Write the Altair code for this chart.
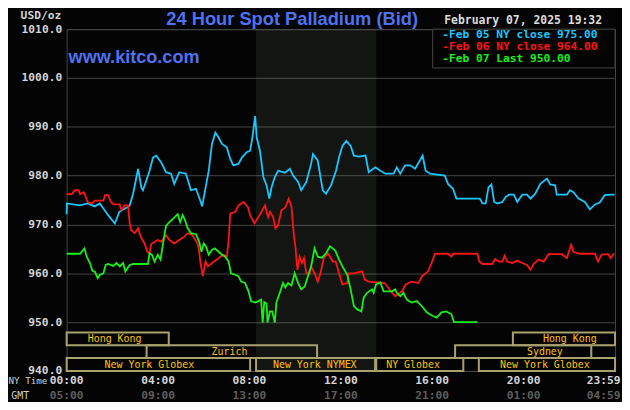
import altair as alt
import pandas as pd

# ---------------- data (hours since 00:00 NY time, USD/oz) ----------------
blue_h = [0.00,0.01,0.58,0.92,1.23,1.45,1.82,2.11,2.31,2.69,
          2.76,2.91,3.13,3.27,3.34,3.49,3.63,3.78,3.92,4.14,
          4.35,4.57,4.71,4.93,5.22,5.44,5.66,5.87,5.93,6.22,
          6.36,6.51,6.65,6.80,7.01,7.16,7.30,7.52,7.67,7.88,
          8.03,8.13,8.25,8.32,8.46,8.61,8.75,8.87,8.97,9.11,
          9.26,9.55,9.77,9.91,10.13,10.27,10.49,10.70,10.78,10.99,
          11.11,11.21,11.35,11.57,11.79,11.92,12.07,12.24,12.43,12.57,
          12.79,13.08,13.22,13.51,13.73,13.95,14.31,14.45,14.60,14.81,
          15.03,15.25,15.46,15.58,15.71,15.90,16.55,16.69,16.91,17.06,
          18.08,18.20,18.34,18.46,18.59,18.71,18.85,19.07,19.21,19.36,
          19.57,19.72,19.94,20.15,20.30,20.51,20.73,21.02,21.16,21.38,
          21.45,21.89,22.03,22.18,22.40,22.68,22.90,23.12,23.33,23.55,
          23.84,23.98]
blue_p = [972.1,974.3,973.9,974.3,973.7,974.3,971.9,970.2,972.6,973.6,
          973.9,976.3,981.4,977.6,977.0,979.0,981.0,983.7,984.1,982.7,
          980.7,980.4,978.3,980.7,980.4,977.0,977.3,974.6,973.7,981.0,
          986.5,988.8,987.8,986.5,985.8,983.4,982.1,982.4,983.7,984.8,
          985.1,987.8,992.2,987.8,985.1,979.7,978.0,975.3,977.6,979.7,
          981.0,980.6,981.4,980.0,978.7,977.0,978.7,982.4,984.4,983.1,
          979.7,977.0,976.3,978.0,981.0,983.7,986.1,987.1,986.1,984.1,
          983.9,984.1,980.7,981.7,981.0,980.4,980.4,981.7,980.4,982.1,
          982.1,981.4,983.1,984.1,981.0,980.4,980.0,978.3,977.3,975.3,
          975.3,974.3,974.3,977.6,978.2,974.6,974.3,974.6,975.6,976.1,
          976.1,974.6,976.1,976.1,975.3,976.3,978.3,979.4,978.2,978.0,
          976.1,976.1,977.0,976.6,975.3,974.6,973.1,974.1,974.5,976.0,
          976.1,976.1]

red_h = [0.00,0.23,0.37,0.52,0.59,0.74,0.81,0.92,1.10,1.24,
         1.61,1.68,1.82,1.94,2.04,2.33,2.40,2.54,2.69,2.76,
         2.83,2.98,3.13,3.24,3.41,3.53,3.63,3.70,3.99,4.14,
         4.35,4.50,4.71,4.93,5.15,5.30,5.51,5.73,5.79,5.86,
         5.96,6.08,6.19,6.36,6.58,6.73,6.87,7.01,7.09,7.16,
         7.38,7.52,7.74,7.93,8.03,8.22,8.39,8.53,8.68,8.82,
         8.90,9.04,9.14,9.26,9.40,9.57,9.72,9.84,9.95,10.01,
         10.10,10.20,10.30,10.39,10.49,10.63,10.70,10.85,10.99,11.11,
         11.25,11.43,11.65,11.78,11.92,12.07,12.28,12.35,12.57,12.93,
         13.05,13.22,13.92,14.24,14.38,14.67,14.84,15.10,15.39,15.56,
         15.82,15.97,16.12,16.69,16.84,16.91,17.98,18.06,18.20,18.63,
         18.75,18.92,19.07,19.17,19.28,19.50,19.72,19.94,20.15,20.30,
         20.44,20.66,20.88,21.09,21.67,21.89,22.01,22.08,22.18,22.47,
         23.12,23.26,23.41,23.70,23.81,23.96]
red_p = [976.2,976.2,977.0,977.0,976.2,976.6,976.0,974.6,974.3,974.9,
         974.9,976.0,976.0,974.6,974.1,974.1,972.9,973.9,973.9,970.2,
         968.8,968.2,969.2,967.5,966.1,964.4,964.1,966.0,966.8,966.5,
         967.8,966.8,966.1,966.8,967.5,968.2,967.8,966.1,964.8,962.1,
         959.4,962.4,961.4,962.1,962.8,963.4,963.8,963.4,966.8,972.2,
         972.6,973.9,974.6,973.6,971.9,970.2,971.5,972.6,973.9,971.5,
         972.6,971.5,969.2,969.9,972.9,973.5,975.3,973.6,967.5,965.5,
         960.7,963.4,962.1,963.1,960.0,960.0,961.4,960.0,958.3,960.0,
         963.1,964.1,962.4,962.4,960.0,957.7,958.0,960.0,960.0,960.4,
         958.7,958.3,958.0,956.0,955.3,956.3,957.7,958.3,958.0,959.4,
         960.4,962.1,964.0,964.0,963.4,964.0,964.0,962.4,961.9,961.9,
         962.9,962.4,962.4,963.6,962.4,962.1,962.6,962.1,961.7,960.7,
         961.9,962.8,962.4,963.9,963.9,963.1,964.8,965.8,964.4,964.0,
         964.0,962.4,963.8,963.9,963.1,964.1]

green_h = [0.00,0.59,0.78,0.88,1.02,1.13,1.24,1.36,1.46,1.61,
           1.71,1.82,2.04,2.18,2.33,2.47,2.57,2.76,2.91,3.56,
           3.63,3.73,3.85,3.99,4.11,4.21,4.35,4.50,4.71,4.86,
           4.97,5.08,5.18,5.30,5.44,5.66,5.80,5.90,6.00,6.10,
           6.22,6.36,6.48,6.65,6.80,6.94,7.09,7.19,7.38,7.52,
           7.64,7.81,7.96,8.07,8.25,8.39,8.51,8.58,8.65,8.75,
           8.79,8.90,9.00,9.11,9.18,9.33,9.47,9.57,9.69,9.84,
           9.98,10.13,10.27,10.42,10.56,10.70,10.85,10.99,11.17,11.35,
           11.53,11.72,11.78,11.92,12.07,12.28,12.43,12.57,12.72,12.90,
           13.00,13.15,13.37,13.44,13.54,13.73,13.87,14.24,14.38,14.45,
           14.60,14.74,14.89,15.10,15.32,15.54,15.76,15.97,16.19,16.41,
           16.62,16.84,16.95,17.98]
green_p = [964.0,964.0,965.1,963.4,962.1,960.5,960.3,959.0,959.7,960.0,
           961.7,961.9,961.5,962.1,961.4,962.1,960.4,961.7,961.9,961.9,
           964.1,963.8,962.4,963.8,962.8,965.8,969.7,970.5,971.4,972.1,
           970.5,971.9,970.9,969.2,968.2,968.0,966.5,964.4,966.1,965.5,
           963.8,964.8,965.1,964.4,963.8,963.4,962.4,960.0,959.7,959.4,
           958.3,958.0,956.3,954.3,954.0,954.3,954.6,949.9,954.1,953.8,
           949.9,952.2,952.2,949.9,954.0,956.0,958.0,957.1,958.0,957.5,
           960.0,958.0,956.7,957.3,959.4,961.4,965.1,963.4,963.2,964.1,
           965.5,964.8,964.4,962.8,961.4,959.7,956.7,953.3,952.6,952.2,
           955.0,956.0,956.7,956.0,957.7,958.1,956.3,956.3,956.7,956.0,
           955.3,956.0,954.6,954.0,954.3,953.3,952.0,951.4,950.9,952.0,
           952.2,951.6,950.0,950.0]

series = ["Feb 05 NY close 975.00", "Feb 06 NY close 964.00", "Feb 07 Last 950.00"]
series_colors = ["#18C8FF", "#FF1414", "#18F018"]

# axis / tick labels
y_ticks = [940, 950, 960, 970, 980, 990, 1000, 1010]
grid_hours = [0, 2, 4, 6, 8, 10, 12, 14, 16, 18, 20, 22]
ny_label_h = [0, 4, 8, 12, 16, 20, 23.5]
ny_labels = ["00:00", "04:00", "08:00", "12:00", "16:00", "20:00", "23:59"]
gmt_labels = ["05:00", "09:00", "13:00", "17:00", "21:00", "01:00", "04:59"]

# NYMEX session shading
shade_start = [8.29]
shade_end = [13.55]

# trading-session boxes (row 0 = top)
sess_names = ["Hong Kong", "Zurich", "New York Globex", "New York NYMEX",
              "NY Globex", "Sydney", "Hong Kong", "New York Globex"]
sess_start = [0.0, 3.5, 0.0, 8.29, 13.55, 17.0, 19.53, 18.04]
sess_end = [4.47, 10.96, 8.03, 13.5, 17.36, 22.96, 24.0, 24.0]
sess_row = [0, 1, 2, 2, 2, 1, 0, 2]
sess_label_h = [2.1, 7.13, 3.62, 10.86, 15.16, 20.93, 22.02, 20.93]

title_text = "24 Hour Spot Palladium (Bid)"
site_text = "www.kitco.com"
date_text = "February 07, 2025 19:32"

# ---------------- frames ----------------
frames = []
for name, hs, ps in zip(series, [blue_h, red_h, green_h], [blue_p, red_p, green_p]):
    frames.append(pd.DataFrame({"h": hs, "p": ps, "s": name, "i": range(len(hs))}))
lines_df = pd.concat(frames, ignore_index=True)

sess_df = pd.DataFrame({
    "name": sess_names, "a": sess_start, "b": sess_end,
    "r0": sess_row, "r1": [r + 1 for r in sess_row],
    "rm": [r + 0.5 for r in sess_row], "lh": sess_label_h,
})
shade_df = pd.DataFrame({"a": shade_start, "b": shade_end})
legbox_df = pd.DataFrame({"a": [16.02], "b": [24.0], "c": [1002.05], "d": [1010.0]})
legend_df = pd.DataFrame({"s": series, "t": ["-" + s for s in series], "k": [0, 1, 2]})
xlab_df = pd.DataFrame({"h": ny_label_h, "ny": ny_labels, "gmt": gmt_labels})

MONO = "DejaVu Sans Mono"
SANS = "Liberation Sans"
BLUE_TXT = "#4F72F2"
GRID = "#464646"

xscale = alt.Scale(domain=[0, 24], nice=False, zero=False)
yscale = alt.Scale(domain=[940, 1010], nice=False, zero=False)
rowscale = alt.Scale(domain=[0, 3], range=[305.3, 344])
colscale = alt.Scale(domain=series, range=series_colors)

xaxis = alt.Axis(values=grid_hours, grid=True, gridColor=GRID, gridWidth=1,
                 labels=False, ticks=False, domain=False, title=None)
yaxis = alt.Axis(values=y_ticks, format=".1f", grid=True, gridColor=GRID, gridWidth=1,
                 ticks=False, domain=False, labelFont=MONO, labelFontSize=11.3,
                 labelFontWeight="bold", labelColor="#D4D4D4", labelPadding=5,
                 title="USD/oz", titleAngle=0, titleAlign="right", titleBaseline="middle",
                 titleX=-6, titleY=-14, titleFont=MONO, titleFontSize=11.3,
                 titleFontWeight="bold", titleColor="#D4D4D4")

shade = alt.Chart(shade_df).mark_rect(fill="#c8e0c8", opacity=0.08).encode(
    x=alt.X("a:Q", scale=xscale, axis=None), x2="b:Q")

lines = alt.Chart(lines_df).mark_line(strokeWidth=1.8).encode(
    x=alt.X("h:Q", scale=xscale, axis=xaxis),
    y=alt.Y("p:Q", scale=yscale, axis=yaxis),
    color=alt.Color("s:N", scale=colscale, legend=None),
    order="i:Q",
)

legbox = alt.Chart(legbox_df).mark_rect(fill="#040404", stroke=GRID, strokeWidth=1).encode(
    x=alt.X("a:Q", scale=xscale, axis=None), x2="b:Q",
    y=alt.Y("c:Q", scale=yscale, axis=None), y2="d:Q")

legtext = alt.Chart(legend_df).mark_text(align="left", baseline="middle", font=MONO,
                                         fontSize=11.3, fontWeight="bold").encode(
    x=alt.value(378),
    y=alt.Y("k:Q", scale=alt.Scale(domain=[0, 2], range=[6, 30]), axis=None),
    text="t:N",
    color=alt.Color("s:N", scale=colscale, legend=None),
)

boxes = alt.Chart(sess_df).mark_rect(fill="#000000", fillOpacity=0, stroke="#A8A26E",
                                     strokeWidth=2).encode(
    x=alt.X("a:Q", scale=xscale, axis=None), x2="b:Q",
    y=alt.Y("r0:Q", scale=rowscale, axis=None), y2="r1:Q")

boxtext = alt.Chart(sess_df).mark_text(font=MONO, fontSize=10, color="#FFC400",
                                       baseline="middle", dy=0.5).encode(
    x=alt.X("lh:Q", scale=xscale, axis=None),
    y=alt.Y("rm:Q", scale=rowscale, axis=None),
    text="name:N")

nylab = alt.Chart(xlab_df).mark_text(font=MONO, fontSize=11.3, fontWeight="bold",
                                     color="#D4D4D4", baseline="middle").encode(
    x=alt.X("h:Q", scale=xscale, axis=None), y=alt.value(354.5), text="ny:N")
gmtlab = alt.Chart(xlab_df).mark_text(font=MONO, fontSize=11.3, fontWeight="bold",
                                      color="#5E5E5E", baseline="middle").encode(
    x=alt.X("h:Q", scale=xscale, axis=None), y=alt.value(369), text="gmt:N")

one = pd.DataFrame({"t": [0]})
nytime = alt.Chart(one).mark_text(font=MONO, fontSize=9.3, color="#D0D0D0", align="left",
                                  baseline="middle", text="NY Time").encode(
    x=alt.value(-58.5), y=alt.value(354.5))
gmt = alt.Chart(one).mark_text(font=MONO, fontSize=10, color="#D0D0D0", align="center",
                               baseline="middle", text="GMT").encode(
    x=alt.value(-46.7), y=alt.value(369))
title = alt.Chart(one).mark_text(font=SANS, fontSize=18.4, fontWeight="bold", color=BLUE_TXT,
                                 align="center", baseline="alphabetic",
                                 text=title_text).encode(
    x=alt.value(227), y=alt.value(-4.6))
site = alt.Chart(one).mark_text(font=SANS, fontSize=18.2, fontWeight="bold", color=BLUE_TXT,
                                align="left", baseline="alphabetic", text=site_text).encode(
    x=alt.value(2), y=alt.value(34))
date = alt.Chart(one).mark_text(font=MONO, fontSize=11.5, fontWeight="bold", color="#DCDCDC",
                                align="left", baseline="alphabetic", text=date_text).encode(
    x=alt.value(380), y=alt.value(-5.5))

chart = alt.layer(
    shade, lines, legbox, legtext, boxes, boxtext, nylab, gmtlab,
    nytime, gmt, title, site, date,
).resolve_scale(y="independent").properties(
    width=552, height=344,
    padding={"left": 59, "top": 20, "right": 7, "bottom": 30},
    autosize=alt.AutoSizeParams(type="none"),
    background="#040404",
).configure_view(stroke=GRID, strokeWidth=1)

chart.save("out.html", embed_options={"renderer": "svg", "actions": False})
